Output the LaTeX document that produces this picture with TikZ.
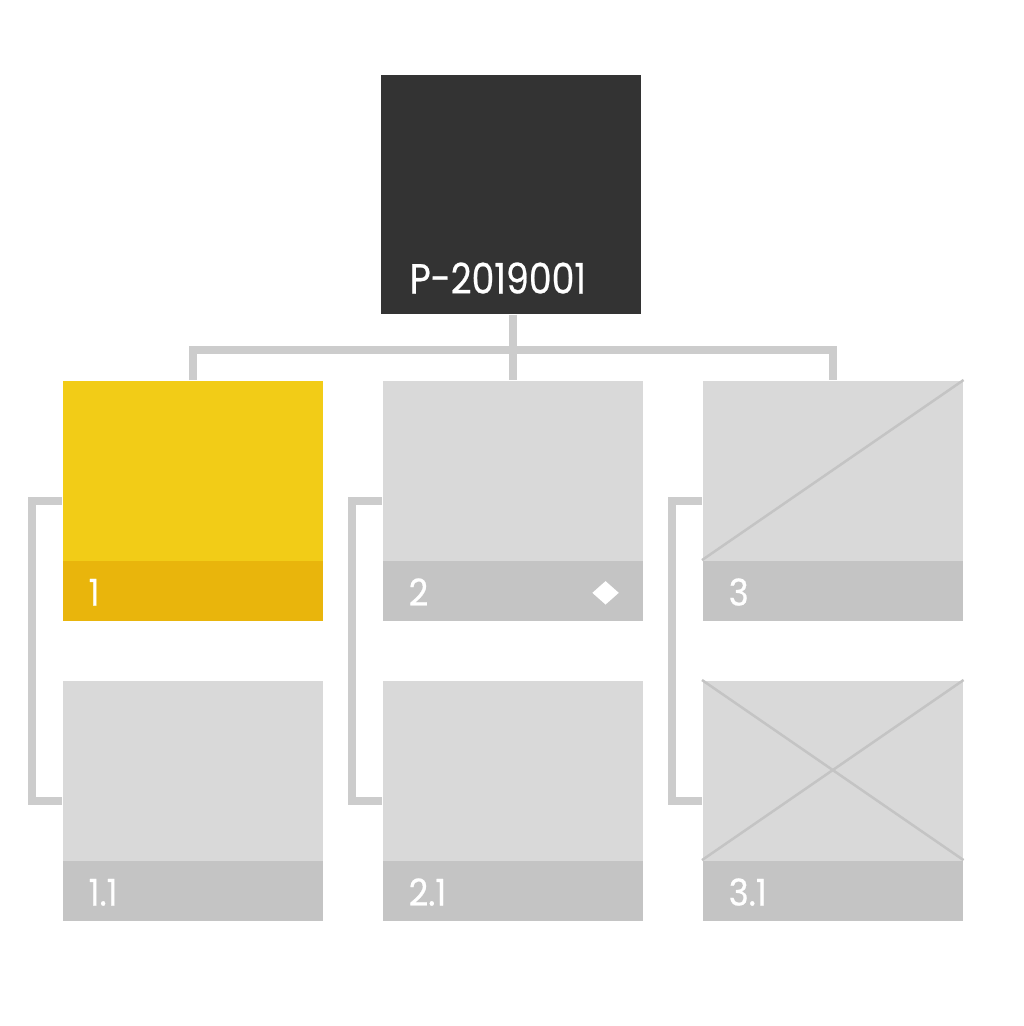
\documentclass[tikz,border=0pt]{standalone}
\usepackage{fontspec}
\setmainfont{Poppins}
\newfontfamily\cardfont{Poppins}[FakeBold=0.6]
\usetikzlibrary{calc,positioning,shapes.geometric}
\definecolor{rootgray}{HTML}{333333}
\definecolor{cardgray}{HTML}{D9D9D9}
\definecolor{bandgray}{HTML}{C4C4C4}
\definecolor{linkgray}{HTML}{CCCCCC}
\definecolor{crossgray}{HTML}{C4C4C4}
\definecolor{pickyellow}{HTML}{F2CC17}
\definecolor{pickband}{HTML}{E9B50C}
\tikzset{
card/.style={rectangle, minimum width=2.6cm, minimum height=2.4cm, inner sep=0pt, anchor=north west},
band/.style={rectangle, minimum width=2.6cm, minimum height=0.6cm, inner sep=0pt, anchor=south},
tag/.style={text=white, inner sep=0pt, anchor=base west, font=\cardfont\fontsize{10.5}{12}\selectfont},
link/.style={draw=linkgray, line width=0.08cm},
cross/.style={draw=crossgray, line width=0.025cm}
}

\begin{document}
\begin{tikzpicture}[x=0.01cm, y=-0.01cm]
\useasboundingbox (0,0) rectangle (1024,1026);

% Draw the root card.
\node[card, fill=rootgray, minimum height=2.39cm] (root) at (380,74) {};
\node[tag, font=\cardfont\fontsize{12}{14}\selectfont] (rootname) at ($(root.south west)+(29,-21)$) {\scalebox{0.86}[1]{P-2019001}};

% Draw the cards and their bands.
\foreach \n/\x/\y/\f/\g in {1/62/380/pickyellow/pickband, 2/382/380/cardgray/bandgray,
  3/702/380/cardgray/bandgray, 11/62/680/cardgray/bandgray,
  21/382/680/cardgray/bandgray, 31/702/680/cardgray/bandgray}
{
\node[card, fill=\f] (c\n) at (\x,\y) {};
\node[band, fill=\g] (b\n) at (c\n.south) {};
}

% Draw the crossed out cards.
\draw[cross] (b3.north west) -- (c3.north east);
\draw[cross] (c31.north west) -- (b31.north east);
\draw[cross] (b31.north west) -- (c31.north east);

% Draw the card numbers.
\foreach \n/\t in {1/1, 2/2, 3/3, 11/1.1, 21/2.1, 31/3.1}
\node[tag] (t\n) at ($(b\n.south west)+(26,-16)$) {\scalebox{0.92}[1]{\t}};
\node[diamond, fill=white, minimum width=0.27cm, minimum height=0.24cm, inner sep=0pt] (mark) at ($(b2.east)+(-38,2)$) {};

% Draw the links.
\coordinate (hub) at ($(c2.north)+(0,-30)$);
\draw[link] (root.south -| hub) -- (hub);
\draw[link] (c1.north) |- (hub) -| (c3.north);
\draw[link] (hub) -- (c2.north);
\foreach \a/\b in {1/11, 2/21, 3/31}
\draw[link] (c\a.west) -- ++(-30,0) |- (c\b.west);
\end{tikzpicture}
\end{document}
